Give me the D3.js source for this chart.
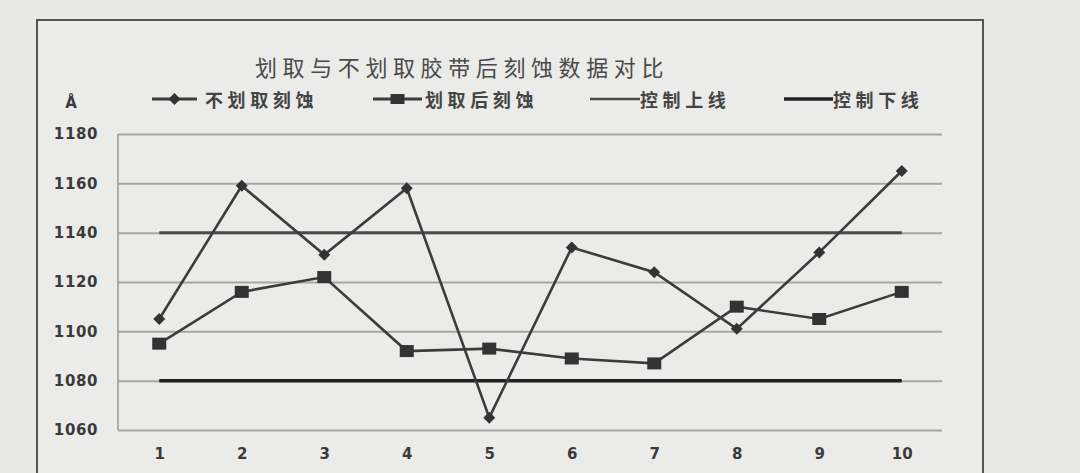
<!DOCTYPE html>
<html>
<head>
<meta charset="utf-8">
<script src="https://cdn.jsdelivr.net/npm/d3@7/dist/d3.min.js"></script>
<style>
  html, body { margin: 0; padding: 0; background: #e8e8e6; }
  svg { display: block; }
</style>
</head>
<body>
<svg id="chart" width="1080" height="473"></svg>
<script>
// ---- data ----
const categories = ["1","2","3","4","5","6","7","8","9","10"];
const seriesNoScribe = [1105, 1159, 1131, 1158, 1065, 1134, 1124, 1101, 1132, 1165]; // 不划取刻蚀
const seriesScribe   = [1095, 1116, 1122, 1092, 1093, 1089, 1087, 1110, 1105, 1116]; // 划取后刻蚀
const upperLimit = 1140; // 控制上线
const lowerLimit = 1080; // 控制下线
const yTicks = [1060, 1080, 1100, 1120, 1140, 1160, 1180];
const titleText = "划取与不划取胶带后刻蚀数据对比";
const legendLabels = ["不划取刻蚀", "划取后刻蚀", "控制上线", "控制下线"];
const unitLabel = "Å";

// ---- layout ----
const svg = d3.select("#chart");
const plot = { left: 118, right: 943, top: 134, bottom: 430 };
const x = d3.scalePoint().domain(categories).range([plot.left, plot.right]).padding(0.5);
const y = d3.scaleLinear().domain([1060, 1180]).range([plot.bottom, plot.top]);

// outer border
svg.append("rect")
  .attr("x", 37).attr("y", 20).attr("width", 946).attr("height", 480)
  .attr("fill", "#ebebe9").attr("stroke", "#555").attr("stroke-width", 2);

// title
svg.append("text")
  .attr("x", 255).attr("y", 66)
  .attr("dominant-baseline", "central")
  .attr("font-family", "'Noto Sans CJK SC'")
  .attr("font-size", 22).attr("font-weight", 400)
  .attr("letter-spacing", 5.6)
  .attr("fill", "#4a4a4a")
  .text(titleText);

// unit label
svg.append("text")
  .attr("x", 71).attr("y", 103)
  .attr("text-anchor", "middle").attr("dominant-baseline", "central")
  .attr("font-family", "'DejaVu Sans'").attr("font-weight", "bold")
  .attr("font-size", 15).attr("fill", "#3a3a3a")
  .text(unitLabel);

// gridlines
const yAxis = d3.axisLeft(y).tickValues(yTicks).tickSize(-(942 - plot.left)).tickPadding(20).tickFormat(d3.format("d"));
const gAxis = svg.append("g").attr("transform", `translate(${plot.left},0)`).call(yAxis);
gAxis.select(".domain").remove();
gAxis.selectAll(".tick line").attr("stroke", "#a6a6a4").attr("stroke-width", 2);
gAxis.selectAll(".tick text")
  .attr("font-family", "'DejaVu Sans'").attr("font-weight", "bold")
  .attr("font-size", 15).attr("fill", "#3a3a3a").attr("letter-spacing", 0.6);

// left plot border
svg.append("line")
  .attr("x1", plot.left).attr("x2", plot.left)
  .attr("y1", plot.top).attr("y2", plot.bottom)
  .attr("stroke", "#999").attr("stroke-width", 1.5);

// x axis labels
const xAxis = d3.axisBottom(x).tickSize(0).tickPadding(18);
const gx = svg.append("g").attr("transform", `translate(0,${plot.bottom})`).call(xAxis);
gx.select(".domain").remove();
gx.selectAll(".tick text")
  .attr("font-family", "'DejaVu Sans'").attr("font-weight", "bold")
  .attr("font-size", 15).attr("fill", "#3a3a3a");

// control lines
const first = categories[0], last = categories[categories.length - 1];
svg.append("line")
  .attr("x1", x(first)).attr("x2", x(last))
  .attr("y1", y(upperLimit)).attr("y2", y(upperLimit))
  .attr("stroke", "#4a4a4a").attr("stroke-width", 3);
svg.append("line")
  .attr("x1", x(first)).attr("x2", x(last))
  .attr("y1", y(lowerLimit)).attr("y2", y(lowerLimit))
  .attr("stroke", "#222").attr("stroke-width", 3.5);

// series lines
const line = d3.line().x((d, i) => x(categories[i])).y(d => y(d));
svg.append("path").datum(seriesNoScribe)
  .attr("d", line).attr("fill", "none")
  .attr("stroke", "#3c3c3c").attr("stroke-width", 2.6);
svg.append("path").datum(seriesScribe)
  .attr("d", line).attr("fill", "none")
  .attr("stroke", "#3c3c3c").attr("stroke-width", 2.6);

// markers
const diamond = d3.symbol(d3.symbolSquare, 72);
svg.selectAll(".dia").data(seriesNoScribe).enter().append("path")
  .attr("d", diamond)
  .attr("transform", (d, i) => `translate(${x(categories[i])},${y(d)}) rotate(45)`)
  .attr("fill", "#333");
svg.selectAll(".sq").data(seriesScribe).enter().append("rect")
  .attr("x", (d, i) => x(categories[i]) - 7).attr("y", d => y(d) - 6)
  .attr("width", 14).attr("height", 12)
  .attr("fill", "#333");

// legend
const legendY = 99;
const legendItems = [
  { lx: 152, rx: 197, tx: 205, w: 3, c: "#3c3c3c", marker: "diamond" },
  { lx: 373, rx: 422, tx: 425, w: 3, c: "#3c3c3c", marker: "square" },
  { lx: 590, rx: 640, tx: 640, w: 2.5, c: "#4a4a4a", marker: null },
  { lx: 784, rx: 833, tx: 833, w: 3.5, c: "#222", marker: null }
];
legendItems.forEach((it, i) => {
  svg.append("line")
    .attr("x1", it.lx).attr("x2", it.rx).attr("y1", legendY).attr("y2", legendY)
    .attr("stroke", it.c).attr("stroke-width", it.w);
  const mx = (it.lx + it.rx) / 2;
  if (it.marker === "diamond") {
    svg.append("path").attr("d", diamond)
      .attr("transform", `translate(${mx},${legendY}) rotate(45)`).attr("fill", "#333");
  } else if (it.marker === "square") {
    svg.append("rect").attr("x", mx - 7).attr("y", legendY - 5)
      .attr("width", 14).attr("height", 10).attr("fill", "#333");
  }
  svg.append("text")
    .attr("x", it.tx).attr("y", legendY)
    .attr("dominant-baseline", "central")
    .attr("font-family", "'Noto Sans CJK SC'").attr("font-weight", "bold")
    .attr("font-size", 18).attr("letter-spacing", 4.6)
    .attr("fill", "#444")
    .text(legendLabels[i]);
});
</script>
</body>
</html>
